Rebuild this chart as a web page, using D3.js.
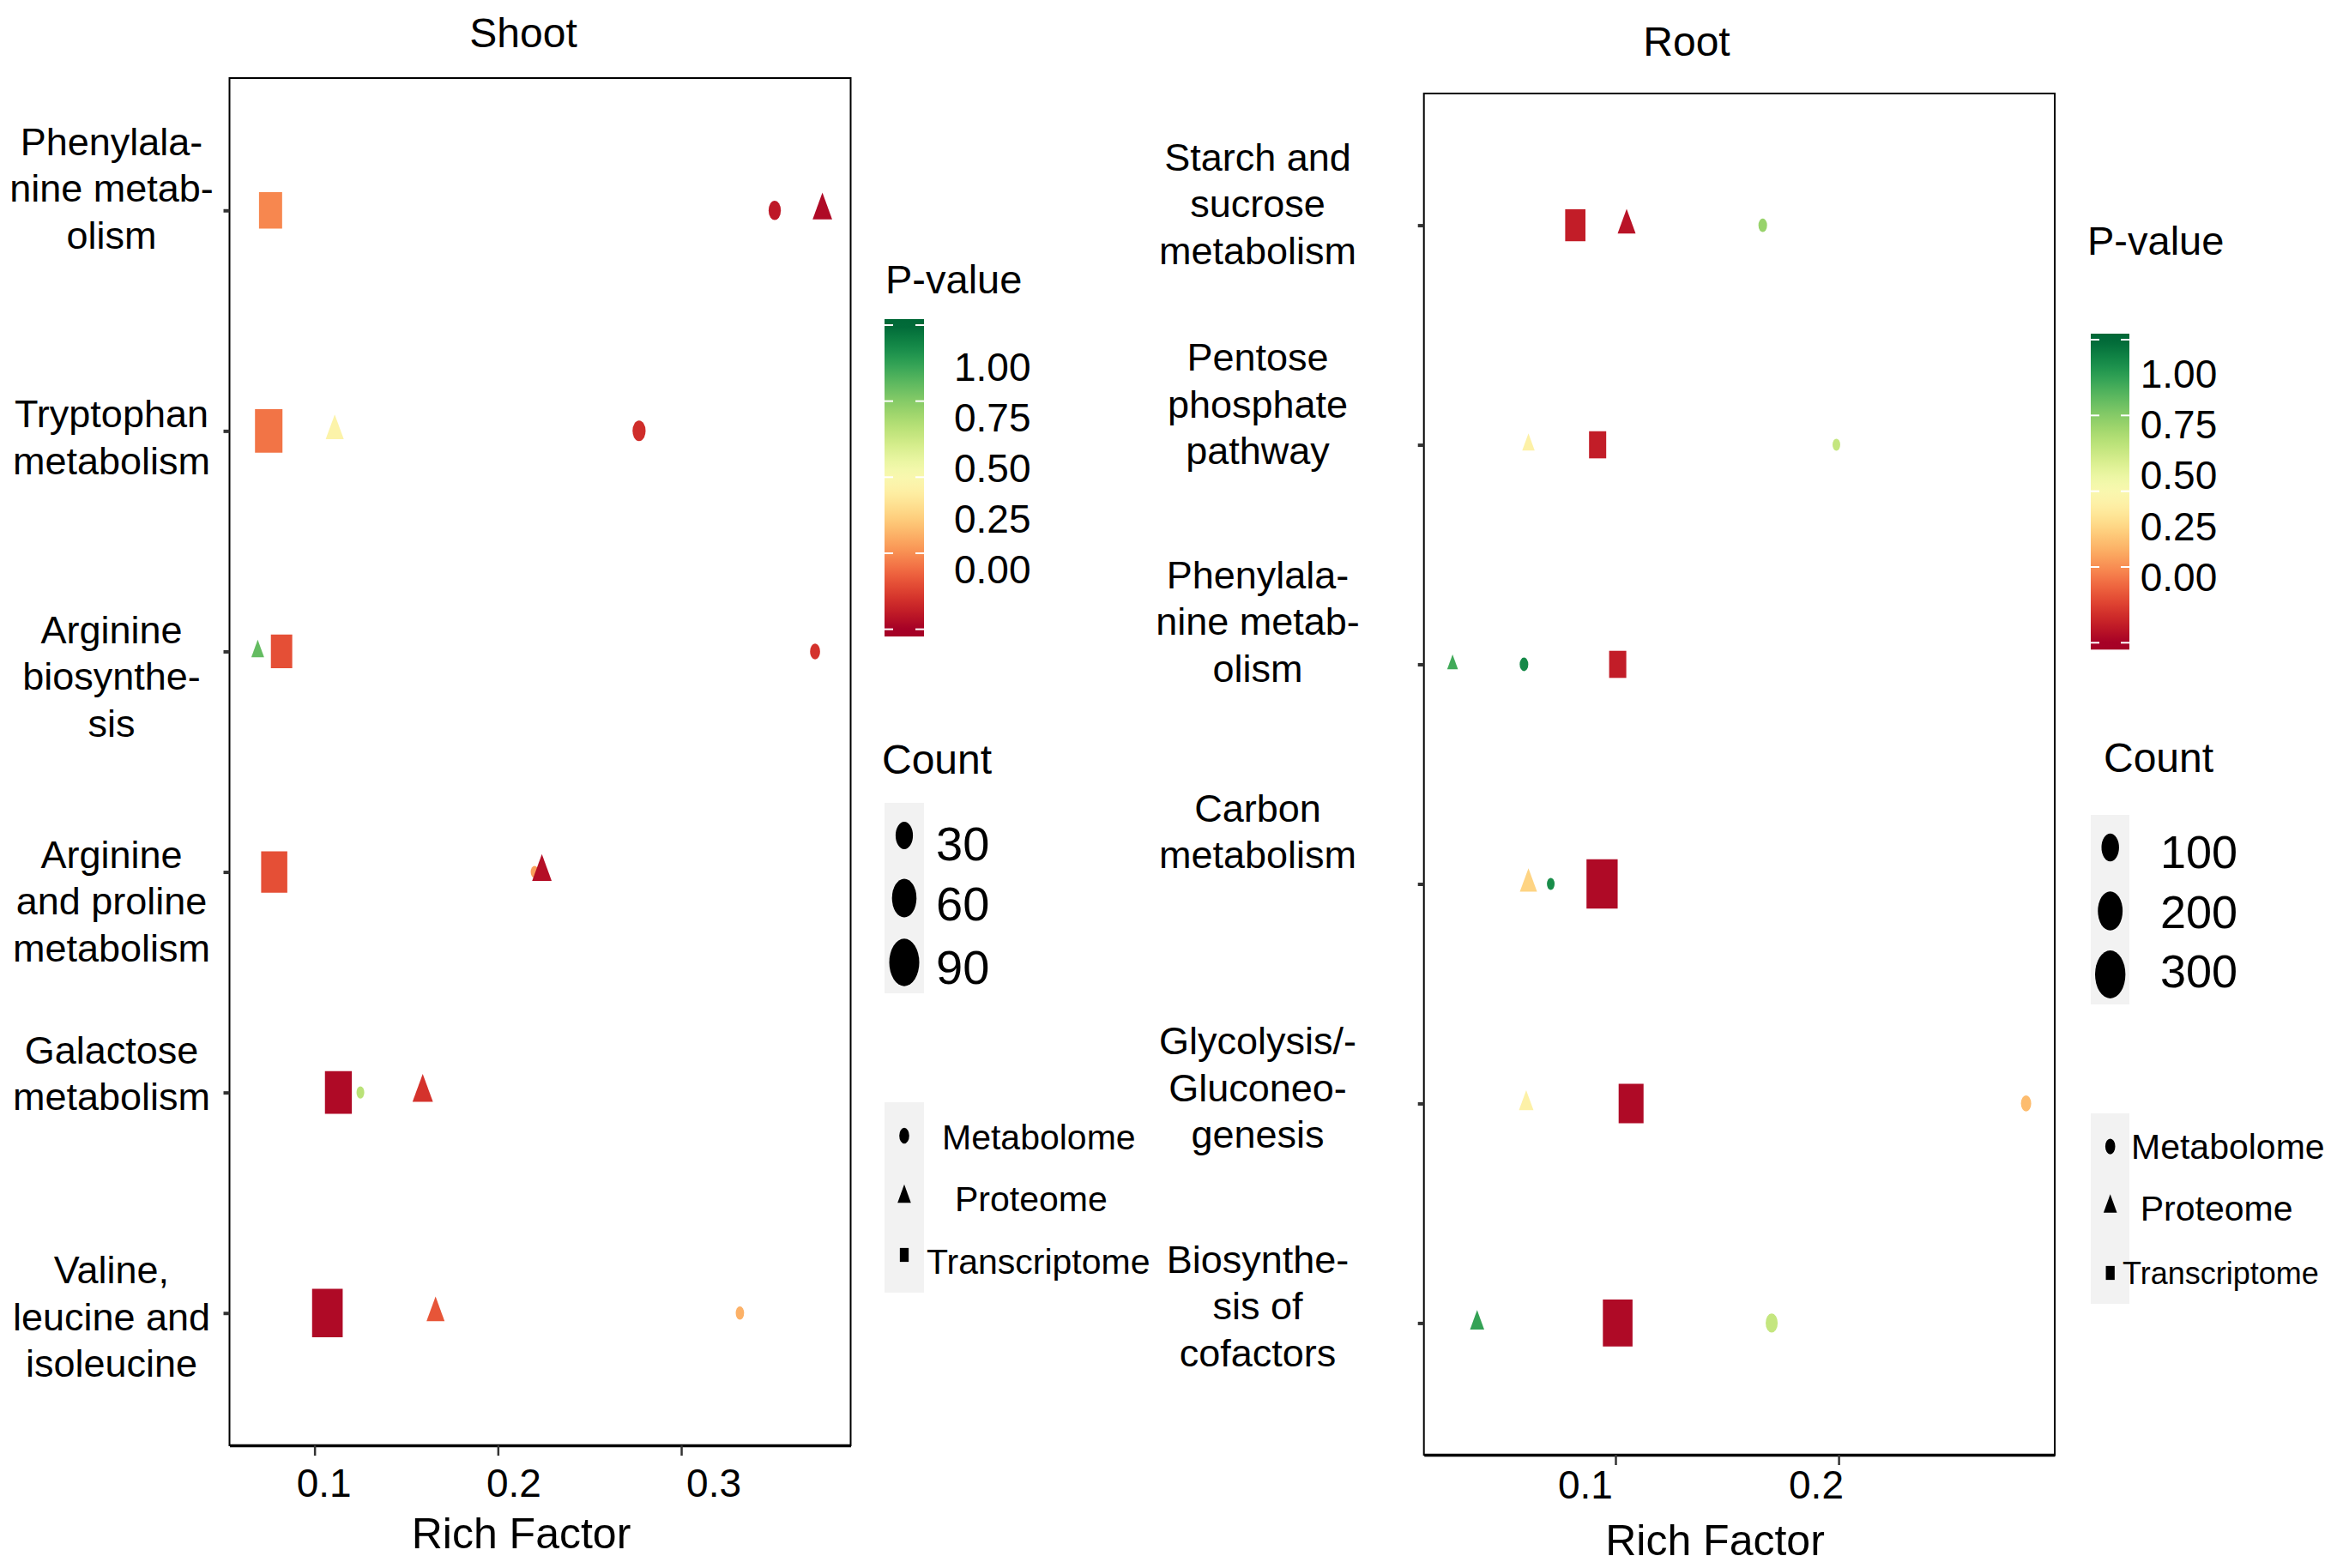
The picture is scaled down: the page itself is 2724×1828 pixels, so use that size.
<!DOCTYPE html>
<html lang="en">
<head>
<meta charset="UTF-8">
<title>Shoot / Root enrichment</title>
<script src="https://d3js.org/d3.v7.min.js"></script>
<style>
  body { margin: 0; background: #fff; }
  text { font-family: "Liberation Sans", Arial, sans-serif; fill: #000; }
</style>
</head>
<body>
<script>
// pathways, top to bottom (line breaks as printed)
var shootPathways = ["Phenylala-\nnine metab-\nolism", "Tryptophan\nmetabolism", "Arginine\nbiosynthe-\nsis",
  "Arginine\nand proline\nmetabolism", "Galactose\nmetabolism", "Valine,\nleucine and\nisoleucine"];
var rootPathways = ["Starch and\nsucrose\nmetabolism", "Pentose\nphosphate\npathway", "Phenylala-\nnine metab-\nolism",
  "Carbon\nmetabolism", "Glycolysis/-\nGluconeo-\ngenesis", "Biosynthe-\nsis of\ncofactors"];

var omics = ["Metabolome", "Proteome", "Transcriptome"];

// shoot: rich factor, count, p-value per omics layer
var shootMetabRich = [0.351, 0.277, 0.373, 0.220, 0.125, 0.332];
var shootProtRich = [0.377, 0.111, 0.069, 0.224, 0.159, 0.166];
var shootTransRich = [0.076, 0.075, 0.082, 0.078, 0.113, 0.107];
var shootMetabCount = [15, 17, 10, 6, 6, 7];
var shootProtCount = [21, 18, 9, 21, 23, 18];
var shootTransCount = [68, 96, 58, 87, 92, 119];
var shootMetabP = [0.05, 0.09, 0.10, 0.28, 0.66, 0.31];
var shootProtP = [0.02, 0.47, 0.80, 0.03, 0.10, 0.16];
var shootTransP = [0.24, 0.21, 0.15, 0.15, 0.02, 0.02];

// root
var rootMetabRich = [0.166, 0.199, 0.059, 0.071, 0.284, 0.170];
var rootProtRich = [0.105, 0.061, 0.027, 0.061, 0.060, 0.038];
var rootTransRich = [0.082, 0.092, 0.101, 0.094, 0.107, 0.101];
var rootMetabCount = [24, 19, 24, 19, 34, 47];
var rootProtCount = [58, 28, 21, 53, 38, 36];
var rootTransCount = [170, 122, 122, 402, 257, 364];
var rootMetabP = [0.72, 0.64, 0.93, 0.92, 0.33, 0.64];
var rootProtP = [0.04, 0.46, 0.85, 0.38, 0.46, 0.87];
var rootTransP = [0.06, 0.06, 0.06, 0.02, 0.02, 0.02];

var pTicks = [1.00, 0.75, 0.50, 0.25, 0.00];
var shootCountBreaks = [30, 60, 90];
var rootCountBreaks = [100, 200, 300];
var shootXTicks = [0.1, 0.2, 0.3];
var rootXTicks = [0.1, 0.2];

var width = 2724, height = 1828;
var stretch = 1.58; // marks are taller than wide in the figure

var svg = d3.select('body').append('svg').attr('width', width).attr('height', height);

var pColor = d3.scaleSequential(d3.interpolateRdYlGn).domain([0, 1]);

function buildRows(pathways, rich, count, p) {
  var rows = [];
  omics.forEach(function (o, j) {
    pathways.forEach(function (c, i) {
      rows.push({ pathway: c, omic: o, rich: rich[j][i], count: count[j][i], p: p[j][i] });
    });
  });
  return rows;
}

// R pch shapes: 16 circle, 17 triangle, 15 square, scaled by "radius" r
function markPath(omic, r) {
  var k = stretch;
  if (omic === 'Proteome') {
    var t = 1.5551 * r, xc = 1.3468 * r, yc = 0.7776 * r;
    return 'M0,' + (-t * k) + 'L' + xc + ',' + (yc * k) + 'L' + (-xc) + ',' + (yc * k) + 'Z';
  }
  if (omic === 'Transcriptome') {
    var h = 0.8862 * r;
    return 'M' + (-h) + ',' + (-h * k) + 'H' + h + 'V' + (h * k) + 'H' + (-h) + 'Z';
  }
  // ellipse drawn as path
  return 'M' + (-r) + ',0A' + r + ',' + (r * k) + ' 0 1,0 ' + r + ',0A' + r + ',' + (r * k) + ' 0 1,0 ' + (-r) + ',0Z';
}

function drawPanel(cfg) {
  var g = svg.append('g');
  var ext = d3.extent(cfg.rows, function (d) { return d.rich; });
  var pad = (ext[1] - ext[0]) * 0.05;
  var x = d3.scaleLinear().domain([ext[0] - pad, ext[1] + pad]).range([cfg.left, cfg.right]);
  var y = d3.scalePoint().domain(cfg.pathways).range([cfg.top, cfg.bottom]).padding(0.6);
  var size = d3.scaleSqrt().domain([0, cfg.sizeMax]).range([0, cfg.rMax]);

  g.append('rect')
    .attr('x', cfg.left).attr('y', cfg.top)
    .attr('width', cfg.right - cfg.left).attr('height', cfg.bottom - cfg.top)
    .attr('fill', '#fff').attr('stroke', '#000').attr('stroke-width', 2);

  g.selectAll('path.mark').data(cfg.rows).join('path')
    .attr('class', 'mark')
    .attr('transform', function (d) { return 'translate(' + x(d.rich) + ',' + y(d.pathway) + ')'; })
    .attr('d', function (d) { return markPath(d.omic, size(d.count)); })
    .attr('fill', function (d) { return pColor(d.p); });

  // x axis
  var xAxis = g.append('g').attr('transform', 'translate(0,' + cfg.bottom + ')')
    .call(d3.axisBottom(x).tickValues(cfg.xTicks).tickSize(12).tickSizeOuter(0).tickFormat(d3.format('.1f')));
  xAxis.select('.domain').attr('stroke', '#000').attr('stroke-width', 3.5);
  xAxis.selectAll('.tick line').attr('stroke', '#333').attr('stroke-width', 2.5);
  xAxis.selectAll('.tick text')
    .attr('font-size', 46).attr('font-family', null).attr('fill', '#000')
    .attr('x', function (d, i) { return cfg.xLabelShift[i]; })
    .attr('y', cfg.xLabelCy - cfg.bottom).attr('dy', '0.36em');

  // y axis ticks
  var yAxis = g.append('g').attr('transform', 'translate(' + cfg.left + ',0)')
    .call(d3.axisLeft(y).tickSize(7).tickFormat(''));
  yAxis.select('.domain').remove();
  yAxis.selectAll('.tick line').attr('stroke', '#333').attr('stroke-width', 4);

  // pathway labels
  g.selectAll('text.ylab').data(cfg.pathways).join('text')
    .attr('class', 'ylab')
    .attr('text-anchor', 'middle')
    .attr('font-size', 45)
    .each(function (d, i) {
      var t = d3.select(this);
      var base = y(d) + cfg.labelShift[i];
      d.split('\n').forEach(function (line, k) {
        t.append('tspan').attr('x', cfg.labelX).attr('y', base + k * 54.5).text(line);
      });
    });

  g.append('text').attr('x', cfg.titleX).attr('y', cfg.titleY)
    .attr('text-anchor', 'middle').attr('font-size', 48).text(cfg.title);
  g.append('text').attr('x', cfg.xTitleX).attr('y', cfg.xTitleY)
    .attr('text-anchor', 'middle').attr('font-size', 50).text('Rich Factor');

  drawLegends(cfg.legend, size);
}

function drawLegends(L, size) {
  var g = svg.append('g');
  var gradId = 'grad' + L.barX;

  // colour bar
  var barY = d3.scaleLinear().domain([0, 1]).range([L.bar0, L.bar1]);
  var vTop = barY.invert(L.barTop), vBot = barY.invert(L.barBottom);
  var grad = svg.append('defs').append('linearGradient').attr('id', gradId)
    .attr('x1', 0).attr('y1', 0).attr('x2', 0).attr('y2', 1);
  d3.range(0, 41).forEach(function (i) {
    var v = vTop + (vBot - vTop) * i / 40;
    grad.append('stop').attr('offset', (i / 40 * 100) + '%').attr('stop-color', pColor(v));
  });

  g.append('text').attr('x', L.pTitleX).attr('y', L.pTitleY).attr('font-size', 47).text('P-value');
  g.append('rect').attr('x', L.barX).attr('y', L.barTop)
    .attr('width', L.barW).attr('height', L.barBottom - L.barTop)
    .attr('fill', 'url(#' + gradId + ')');
  g.selectAll('line.bt').data(pTicks).join('line').attr('class', 'bt')
    .attr('x1', L.barX).attr('x2', L.barX + 10)
    .attr('y1', function (d) { return barY(d); }).attr('y2', function (d) { return barY(d); })
    .attr('stroke', '#fff').attr('stroke-width', 2);
  g.selectAll('line.bt2').data(pTicks).join('line').attr('class', 'bt2')
    .attr('x1', L.barX + L.barW - 10).attr('x2', L.barX + L.barW)
    .attr('y1', function (d) { return barY(d); }).attr('y2', function (d) { return barY(d); })
    .attr('stroke', '#fff').attr('stroke-width', 2);
  var labY = d3.scaleLinear().domain([0, 1]).range([L.lab0, L.lab1]);
  g.selectAll('text.pl').data(pTicks).join('text').attr('class', 'pl')
    .attr('x', L.pLabX).attr('y', function (d) { return labY(d); }).attr('dy', '0.36em')
    .attr('font-size', 46).text(d3.format('.2f'));

  // count legend
  g.append('text').attr('x', L.cTitleX).attr('y', L.cTitleY).attr('font-size', 48).text('Count');
  g.append('rect').attr('x', L.barX).attr('y', L.cBg[0]).attr('width', L.barW)
    .attr('height', L.cBg[1] - L.cBg[0]).attr('fill', '#f2f2f2');
  g.selectAll('path.ck').data(L.breaks).join('path').attr('class', 'ck')
    .attr('transform', function (d, i) { return 'translate(' + L.keyX + ',' + L.cKeyY[i] + ')'; })
    .attr('d', function (d) { return markPath('Metabolome', size(d)); })
    .attr('fill', '#000');
  g.selectAll('text.cl').data(L.breaks).join('text').attr('class', 'cl')
    .attr('x', L.cLabX).attr('y', function (d, i) { return L.cLabY[i]; }).attr('dy', '0.36em')
    .attr('font-size', L.cLabSize).text(function (d) { return d; });

  // shape legend
  g.append('rect').attr('x', L.barX).attr('y', L.sBg[0]).attr('width', L.barW)
    .attr('height', L.sBg[1] - L.sBg[0]).attr('fill', '#f2f2f2');
  g.selectAll('path.sk').data(omics).join('path').attr('class', 'sk')
    .attr('transform', function (d, i) { return 'translate(' + L.keyX + ',' + L.sKeyY[i] + ')'; })
    .attr('d', function (d) { return markPath(d, 5.8); })
    .attr('fill', '#000');
  g.selectAll('text.sl').data(omics).join('text').attr('class', 'sl')
    .attr('x', function (d, i) { return L.sLabX[i]; })
    .attr('y', function (d, i) { return L.sLabY[i]; }).attr('dy', '0.36em')
    .attr('font-size', function (d, i) { return L.sLabSize[i]; })
    .text(function (d) { return d; });
}

drawPanel({
  rows: buildRows(shootPathways, [shootMetabRich, shootProtRich, shootTransRich],
    [shootMetabCount, shootProtCount, shootTransCount], [shootMetabP, shootProtP, shootTransP]),
  pathways: shootPathways,
  left: 267.5, right: 991.5, top: 91, bottom: 1685,
  labelX: 130, labelShift: [-64.7, -4, -9.6, -4.6, -34, -34.4],
  xTicks: shootXTicks, xLabelShift: [10.5, 18, 37.5], xLabelCy: 1728,
  title: 'Shoot', titleX: 610, titleY: 54.5, xTitleX: 607.5, xTitleY: 1805,
  sizeMax: 90, rMax: 17.5,
  legend: {
    pTitleX: 1032, pTitleY: 342,
    barX: 1031, barW: 46, barTop: 372, barBottom: 742, bar0: 733.6, bar1: 379,
    pLabX: 1112, lab0: 663, lab1: 427,
    cTitleX: 1028, cTitleY: 902, cBg: [936, 1158], keyX: 1054,
    breaks: shootCountBreaks, cKeyY: [974, 1047, 1122], cLabX: 1091, cLabY: [983, 1053, 1127], cLabSize: 56,
    sBg: [1285, 1507], sKeyY: [1324, 1395, 1463],
    sLabX: [1098, 1113, 1080], sLabY: [1325, 1397, 1470], sLabSize: [41, 41, 41]
  }
});

drawPanel({
  rows: buildRows(rootPathways, [rootMetabRich, rootProtRich, rootTransRich],
    [rootMetabCount, rootProtCount, rootTransCount], [rootMetabP, rootProtP, rootTransP]),
  pathways: rootPathways,
  left: 1659.7, right: 2395, top: 109, bottom: 1696,
  labelX: 1466, labelShift: [-64, -86.3, -88.6, -72.9, -57, -58.6],
  xTicks: rootXTicks, xLabelShift: [-35.6, -26.6], xLabelCy: 1730,
  title: 'Root', titleX: 1966, titleY: 65, xTitleX: 1999, xTitleY: 1813,
  sizeMax: 300, rMax: 17.7,
  legend: {
    pTitleX: 2433, pTitleY: 297,
    barX: 2437, barW: 45, barTop: 389, barBottom: 757.3, bar0: 749.3, bar1: 396,
    pLabX: 2494.7, lab0: 672.7, lab1: 435,
    cTitleX: 2452, cTitleY: 900, cBg: [950, 1171], keyX: 2459.7,
    breaks: rootCountBreaks, cKeyY: [988, 1062, 1136], cLabX: 2518, cLabY: [993, 1063, 1132], cLabSize: 54,
    sBg: [1298, 1520], sKeyY: [1336.6, 1406.5, 1484],
    sLabX: [2484, 2494.7, 2474], sLabY: [1336.6, 1408, 1484], sLabSize: [41, 41, 36]
  }
});
</script>
</body>
</html>
